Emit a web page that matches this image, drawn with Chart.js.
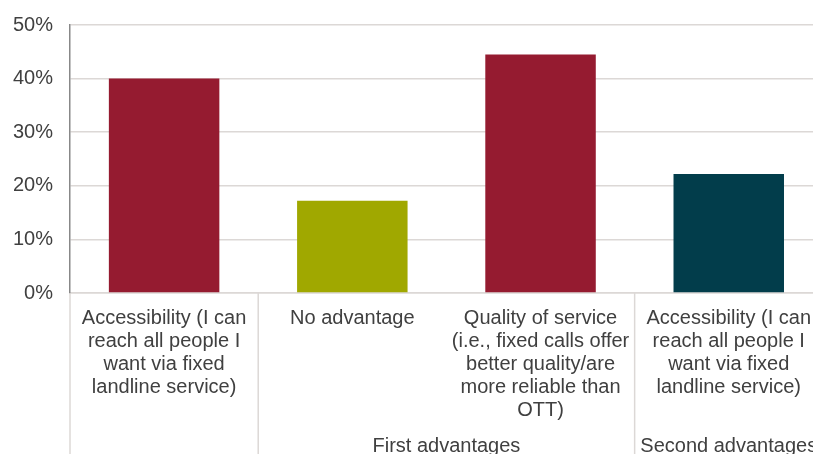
<!DOCTYPE html>
<html>
<head>
<meta charset="utf-8">
<script src="https://cdn.jsdelivr.net/npm/chart.js@4.4.1/dist/chart.umd.min.js"></script>
<style>
  html, body { margin: 0; padding: 0; background: #fff; overflow: hidden; }
  #wrap { position: relative; width: 825px; height: 458px; margin-top: -4px; }
</style>
</head>
<body>
<div id="wrap"><canvas id="chart"></canvas></div>
<script>
// data
const categories = [
  ['Accessibility (I can', 'reach all people I', 'want via fixed', 'landline service)'],
  ['No advantage'],
  ['Quality of service', '(i.e., fixed calls offer', 'better quality/are', 'more reliable than', 'OTT)'],
  ['Accessibility (I can', 'reach all people I', 'want via fixed', 'landline service)']
];
const shares = [40.0, 17.2, 44.5, 22.2];
const barColors = ['#951B30', '#A0A800', '#951B30', '#023D4B'];
const groupLabels = ['', 'First advantages', 'Second advantages'];
const groupSpans = [1, 2, 1];
const yTicks = [0, 10, 20, 30, 40, 50];

const textColor = '#404040';
const lineColor = '#DCD8D6';
const fontFamily = "'Liberation Sans', Arial, sans-serif";

// divider lines + group labels under the category axis
const groupAxis = {
  id: 'groupAxis',
  afterDraw(chart) {
    const ctx = chart.ctx;
    const x = chart.scales.x;
    const half = (x.getPixelForValue(1) - x.getPixelForValue(0)) / 2;
    const top = chart.chartArea.bottom;
    const bottom = chart.height;

    ctx.save();
    ctx.strokeStyle = lineColor;
    ctx.lineWidth = 1.5;
    ctx.fillStyle = textColor;
    ctx.font = '20px ' + fontFamily;
    ctx.textAlign = 'center';
    ctx.textBaseline = 'middle';

    let start = 0;
    groupSpans.forEach((span, g) => {
      const left = x.getPixelForValue(start) - half;
      const right = x.getPixelForValue(start + span - 1) + half;
      ctx.beginPath();
      ctx.moveTo(left, top);
      ctx.lineTo(left, bottom);
      ctx.stroke();
      if (groupLabels[g]) ctx.fillText(groupLabels[g], (left + right) / 2, chart.height - 8);
      start += span;
    });
    ctx.restore();
  }
};

new Chart(document.getElementById('chart'), {
  type: 'bar',
  data: {
    labels: categories,
    datasets: [{
      data: shares,
      backgroundColor: barColors,
      borderWidth: 0,
      categoryPercentage: 1,
      barPercentage: 0.587
    }]
  },
  options: {
    responsive: true,
    maintainAspectRatio: false,
    animation: false,
    layout: { padding: { top: 16, right: 0, left: 0, bottom: 0 } },
    plugins: {
      legend: { display: false },
      tooltip: { enabled: false }
    },
    scales: {
      x: {
        grid: { display: false, drawTicks: false },
        border: { display: true, color: lineColor, width: 1.5 },
        ticks: {
          color: textColor,
          font: { family: fontFamily, size: 20, lineHeight: 1.15 },
          padding: 14,
          maxRotation: 0,
          autoSkip: false
        },
        afterFit(scale) { scale.height = 161; }
      },
      y: {
        min: 0,
        max: 50,
        afterBuildTicks(scale) { scale.ticks = yTicks.map(v => ({ value: v })); },
        grid: { color: lineColor, lineWidth: 1.5, drawTicks: false },
        border: { display: true, color: '#888888', width: 1.5 },
        ticks: {
          color: textColor,
          font: { family: fontFamily, size: 20 },
          padding: 17,
          callback: v => v + '%'
        },
        afterFit(scale) { scale.width = 70; }
      }
    }
  },
  plugins: [groupAxis]
});
</script>
</body>
</html>
